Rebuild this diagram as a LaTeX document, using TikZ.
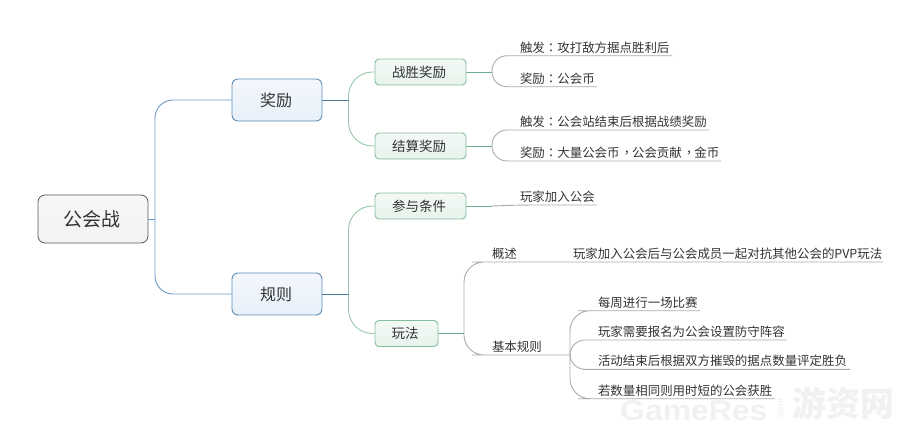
\documentclass[tikz,border=0pt]{standalone}
\usepackage{fontspec}
\setmainfont{Noto Sans CJK SC}
\newfontfamily\wmfont{Liberation Sans}
\newfontfamily\pun{Noto Sans CJK TC}
\newcommand{\midcomma}{{\kern1pt\pun，\kern-1pt}}
\definecolor{ink}{HTML}{333333}
\definecolor{blueln}{HTML}{6A98C4}
\definecolor{blueedge}{HTML}{5E8DB5}
\definecolor{bluetop}{HTML}{F3F7FC}
\definecolor{bluebot}{HTML}{E7F0F9}
\definecolor{bluest}{HTML}{4A7A9C}
\definecolor{greenln}{HTML}{96C8A8}
\definecolor{greenedge}{HTML}{86BD9C}
\definecolor{greentop}{HTML}{F3F9F5}
\definecolor{greenbot}{HTML}{E7F3EC}
\definecolor{greenst}{HTML}{70AE8E}
\definecolor{greyln}{HTML}{ABABAB}
\definecolor{wm}{HTML}{F1F1F1}
\tikzset{
 x=1pt,y=-1pt,
 rootbox/.style={draw=black!65,line width=.8pt,rounded corners=7pt,top color=white!97!black,bottom color=black!5,minimum width=110pt,minimum height=48pt,inner sep=0pt,text=ink,font=\fontsize{19}{19}\selectfont},
 mainbox/.style={draw=blueedge,line width=.9pt,rounded corners=6pt,top color=bluetop,bottom color=bluebot,minimum width=90pt,minimum height=42pt,inner sep=0pt,text=ink,font=\fontsize{16}{16}\selectfont},
 subbox/.style={draw=greenedge,line width=.9pt,rounded corners=4pt,top color=greentop,bottom color=greenbot,minimum height=26pt,inner sep=0pt,text=ink,font=\fontsize{13.5}{14}\selectfont},
 leaf/.style={anchor=south west,inner sep=0pt,outer sep=0pt,text height=10.5pt,text depth=3.4pt,align=left,text=ink,font=\fontsize{12.45}{14}\selectfont},
 blueconn/.style={draw=blueln,line width=.9pt,rounded corners=18pt},
 bluestub/.style={draw=bluest,line width=.8pt},
 greenconn/.style={draw=greenln,line width=.9pt,rounded corners=24pt},
 greenstub/.style={draw=greenst,line width=.8pt},
 greyconn/.style={draw=greyln,line width=.9pt,rounded corners=15pt},
 wmtext/.style={text=wm,inner sep=0pt},
}
\begin{document}
\begin{tikzpicture}
\useasboundingbox (0,0) rectangle (921,437);
% watermark
\node[wmtext,anchor=base west,xscale=1.12,transform shape,font=\wmfont\bfseries\fontsize{28.5}{29}\selectfont] (wma) at (620,420) {GameRes};
\node[wmtext,rotate=90,font=\wmfont\bfseries\fontsize{9}{9}\selectfont] (wmb) at (781,409) {.com};
\node[wmtext,anchor=west,font=\bfseries\fontsize{34}{34}\selectfont] (wmc) at (792,403) {游资网};
% boxes
\node[rootbox] (root) at (93,219) {公会战\kern3pt};
\node[mainbox] (jl) at (277,100) {奖励\kern2pt};
\node[mainbox] (gz) at (277,294) {规则\kern2pt};
\node[subbox,minimum width=91pt] (zs) at (420.5,72) {战胜奖励\kern3pt};
\node[subbox,minimum width=91pt] (js) at (420.5,146) {结算奖励\kern3pt};
\node[subbox,minimum width=91pt] (cy) at (420.5,206) {参与条件\kern3pt};
\node[subbox,minimum width=63pt] (wf) at (406.5,333.5) {玩法\kern3pt};
% leaves: the south edge of each is its underline
\node[leaf,text width=152pt] (a1) at (520,55.7) {触发{\pun：}攻打敌方据点胜利后};
\node[leaf,text width=77pt] (a2) at (520,86.7) {奖励{\pun：}公会币};
\node[leaf,text width=189pt] (b1) at (520,130) {触发{\pun：}公会站结束后根据战绩奖励};
\node[leaf,text width=201pt] (b2) at (520,161) {奖励{\pun：}大量公会币\midcomma 公会贡献\midcomma 金币};
\node[leaf,text width=77pt] (c1) at (520,205) {玩家加入公会};
\node[leaf,text width=40pt] (d1) at (492,262) {概述};
\node[leaf,text width=310pt] (d1x) at (573,262) {玩家加入公会后与公会成员一起对抗其他公会的PVP玩法};
\node[leaf,text width=60pt] (d2) at (492,355) {基本规则};
\node[leaf,text width=102pt] (e1) at (598,310.7) {每周进行一场比赛};
\node[leaf,text width=189pt] (e2) at (598,340) {玩家需要报名为公会设置防守阵容};
\node[leaf,text width=252pt] (e3) at (598,369.3) {活动结束后根据双方摧毁的据点数量评定胜负};
\node[leaf,text width=177pt] (e4) at (598,398.7) {若数量相同则用时短的公会获胜};
% hubs
\coordinate (hr) at (155,219);
\coordinate (hj) at (348.5,100);
\coordinate (hg) at (348.5,294);
\coordinate (hz) at (492,72);
\coordinate (hs) at (492,146);
\coordinate (hc) at (492,206);
\coordinate (hw) at (464,333.5);
\coordinate (hb) at (570,355);
% level 1
\draw[blueconn] (hr) |- (jl.west);
\draw[blueconn] (hr) |- (gz.west);
\draw[bluestub,draw=blueln] (root.east) -- (hr);
% level 2
\draw[greenconn] (hj) |- (zs.west);
\draw[greenconn] (hj) |- (js.west);
\draw[greenconn] (hg) |- (cy.west);
\draw[greenconn] (hg) |- (wf.west);
\draw[bluestub] (jl.east) -- (hj);
\draw[bluestub] (gz.east) -- (hg);
% level 3
\draw[greyconn] (hz) |- (a1.south west) -- (a1.south east);
\draw[greyconn] (hz) |- (a2.south west) -- (a2.south east);
\draw[greyconn] (hs) |- (b1.south west) -- (b1.south east);
\draw[greyconn] (hs) |- (b2.south west) -- (b2.south east);
\draw[greyconn] (hc) -- (c1.south west) -- (c1.south east);
\draw[greyconn,rounded corners=20pt] (hw) |- (d1.south west) -- (d1x.south west) -- (d1x.south east);
\draw[greyconn,rounded corners=20pt] (hw) |- (d2.south west) -- (hb);
\draw[greyconn,rounded corners=20pt] (hb) |- (e1.south west) -- (e1.south east);
\draw[greyconn] (hb) |- (e2.south west) -- (e2.south east);
\draw[greyconn] (hb) |- (e3.south west) -- (e3.south east);
\draw[greyconn,rounded corners=20pt] (hb) |- (e4.south west) -- (e4.south east);
\draw[greenstub] (zs.east) -- (hz);
\draw[greenstub] (js.east) -- (hs);
\draw[greenstub] (cy.east) -- (hc);
\draw[greenstub] (wf.east) -- (hw);
\end{tikzpicture}
\end{document}
